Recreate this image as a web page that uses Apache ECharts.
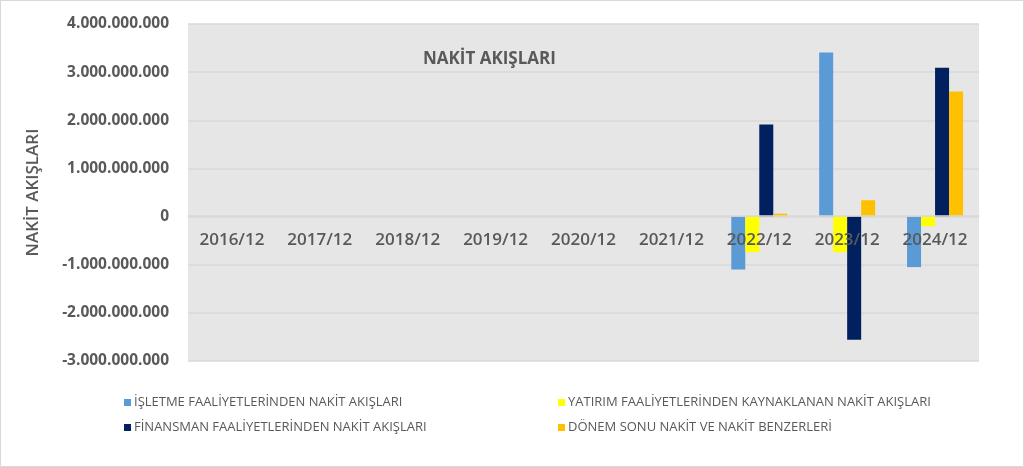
<!DOCTYPE html>
<html>
<head>
<meta charset="utf-8">
<script src="https://cdn.jsdelivr.net/npm/echarts@6/dist/echarts.min.js"></script>
<style>
  html, body { margin: 0; padding: 0; background: #ffffff; }
  #chart { width: 1024px; height: 467px; box-sizing: border-box; border: 1px solid #d9d9d9; }
</style>
</head>
<body>
<div id="chart"></div>
<script>
const categories = ['2016/12', '2017/12', '2018/12', '2019/12', '2020/12', '2021/12', '2022/12', '2023/12', '2024/12'];
const seriesNames = [
  'İŞLETME FAALİYETLERİNDEN NAKİT AKIŞLARI',
  'YATIRIM FAALİYETLERİNDEN KAYNAKLANAN NAKİT AKIŞLARI',
  'FİNANSMAN FAALİYETLERİNDEN NAKİT AKIŞLARI',
  'DÖNEM SONU NAKİT VE NAKİT BENZERLERİ'
];
const isletme   = [0, 0, 0, 0, 0, 0, -1100000000, 3410000000, -1050000000];
const yatirim   = [0, 0, 0, 0, 0, 0, -740000000, -740000000, -200000000];
const finansman = [0, 0, 0, 0, 0, 0, 1910000000, -2560000000, 3090000000];
const donemSonu = [0, 0, 0, 0, 0, 0, 60000000, 340000000, 2600000000];
const colors = ['#5b9bd5', '#ffff00', '#002060', '#ffc000'];

const FONT = '"Open Sans", "Noto Sans", sans-serif';
const TXT = '#595959';

const fmt = v => {
  if (v === 0) return '0';
  const s = Math.abs(v).toString().replace(/\B(?=(\d{3})+(?!\d))/g, '.');
  return (v < 0 ? '-' : '') + s;
};

const Y_MIN = -3000000000, Y_MAX = 4000000000;
const GRID_TOP = 23, GRID_BOTTOM = 105, H = 467;
// place the category axis on the zero line
const plotH = H - GRID_TOP - GRID_BOTTOM;
const zeroOffset = -plotH * (0 - Y_MIN) / (Y_MAX - Y_MIN);

const chart = echarts.init(document.getElementById('chart'), null, { renderer: 'canvas' });
const values = [isletme, yatirim, finansman, donemSonu];

const legendText = { fontFamily: FONT, fontSize: 13, color: TXT, padding: [0, 0, 0, -2] };

chart.setOption({
  animation: false,
  backgroundColor: '#ffffff',
  textStyle: { fontFamily: FONT },
  title: {
    text: 'NAKİT AKIŞLARI',
    left: 417, top: 45,
    textStyle: { fontFamily: FONT, fontSize: 17, fontWeight: 'bold', color: TXT }
  },
  legend: [
    {
      data: [seriesNames[0], seriesNames[2]],
      orient: 'vertical', left: 118, top: 390, itemGap: 12,
      icon: 'rect', itemWidth: 7, itemHeight: 7,
      textStyle: legendText
    },
    {
      data: [seriesNames[1], seriesNames[3]],
      orient: 'vertical', left: 552, top: 390, itemGap: 12,
      icon: 'rect', itemWidth: 7, itemHeight: 7,
      textStyle: legendText
    }
  ],
  grid: { left: 187, right: 44, top: GRID_TOP, bottom: GRID_BOTTOM, containLabel: false, show: true, backgroundColor: '#e7e6e6', borderWidth: 0 },
  xAxis: {
    type: 'category',
    data: categories,
    offset: zeroOffset,
    z: 5,
    axisLine: { onZero: false, lineStyle: { color: '#d9d9d9', width: 1.5 } },
    axisTick: { show: false },
    axisLabel: { margin: 16, fontFamily: FONT, fontSize: 17, fontWeight: 600, color: TXT }
  },
  yAxis: {
    type: 'value',
    min: Y_MIN, max: Y_MAX, interval: 1000000000,
    name: 'NAKİT AKIŞLARI',
    nameLocation: 'middle', nameRotate: 90, nameGap: 146,
    nameTextStyle: { fontFamily: FONT, fontSize: 17, fontWeight: 600, color: TXT },
    axisLine: { show: false },
    axisTick: { show: false },
    splitLine: { lineStyle: { color: '#d9d9d9', width: 1.5 } },
    axisLabel: { margin: 19, formatter: fmt, fontFamily: FONT, fontSize: 15.5, fontWeight: 'bold', color: TXT }
  },
  series: seriesNames.map((n, i) => ({
    name: n,
    type: 'bar',
    data: values[i],
    barWidth: 14,
    barGap: '0%',
    itemStyle: { color: colors[i] }
  }))
});
</script>
</body>
</html>
